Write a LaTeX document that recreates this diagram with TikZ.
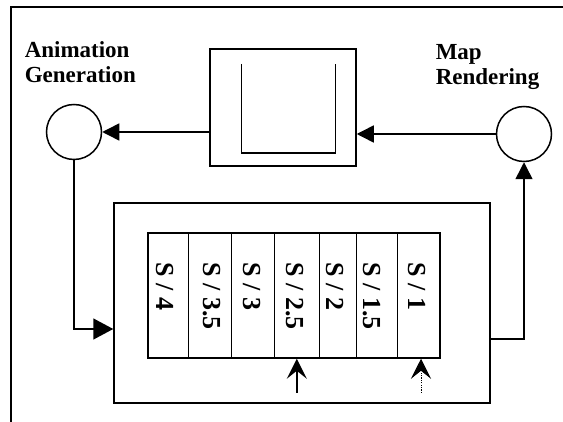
\documentclass[tikz,border=0pt]{standalone}
\usepackage{fontspec}
\setmainfont{Liberation Serif}
\usetikzlibrary{arrows.meta}
\begin{document}
\begin{tikzpicture}[x=1pt,y=-1pt, line width=1.5pt,
  box/.style={draw, line width=1.5pt, inner sep=0pt},
  circ/.style={draw, circle, line width=1.5pt, minimum size=55pt, inner sep=0pt},
  colbox/.style={draw, line width=1.5pt, inner sep=0pt, minimum height=125pt},
  lab/.style={font=\fontsize{23}{25}\selectfont\bfseries, align=left, inner sep=0pt},
  collab/.style={font=\fontsize{26}{26}\selectfont\bfseries, rotate=-90, anchor=base west, inner sep=0pt},
  tri/.style={-{Triangle[length=17pt,width=17pt]}},
  bigtri/.style={-{Triangle[length=20pt,width=21pt]}},
  stl/.style={-{Stealth[length=20pt,width=20pt,inset=8pt]}}
]
\useasboundingbox (0,0) rectangle (563,422);
% frame
\draw[line width=2.5pt] (11,430) -- (11,7) -- (570,7);
% labels
\node[lab, anchor=base west] (anim) at (24,83) {Animation\\Generation};
\node[lab, anchor=base west] (map) at (435,85) {Map\\Rendering};
% top box
\node[box, minimum width=146pt, minimum height=117pt] (ren) at (283,107.5) {};
\draw (241.7,64) -- (241.7,153) -- (335.7,153) -- (335.7,64);
% circles
\node[circ] (lc) at (74,132) {};
\node[circ] (rc) at (524,134) {};
% big box
\node[box, minimum width=376pt, minimum height=200pt] (big) at (302,303) {};
% columns
\node[colbox, minimum width=40.7pt] (c4) at (168.35,295.5) {};
\node[colbox, minimum width=43pt] (c35) at (210.2,295.5) {};
\node[colbox, minimum width=42.6pt] (c3) at (253,295.5) {};
\node[colbox, minimum width=45pt] (c25) at (296.8,295.5) {};
\node[colbox, minimum width=37.4pt] (c2) at (338,295.5) {};
\node[colbox, minimum width=40.6pt] (c15) at (377,295.5) {};
\node[colbox, minimum width=42.7pt] (c1) at (418.65,295.5) {};
\node[collab] (l4) at (156.7,262) {S / 4};
\node[collab] (l35) at (203.3,262) {S / 3.5};
\node[collab] (l3) at (243.3,262) {S / 3};
\node[collab] (l25) at (286.7,262) {S / 2.5};
\node[collab] (l2) at (326.7,262) {S / 2};
\node[collab] (l15) at (363.3,262) {S / 1.5};
\node[collab] (l1) at (408.3,262) {S / 1};
% connectors
\draw[tri] (rc.west) -- (rc.west -| ren.east);
\draw[tri] (ren.west |- lc.east) -- (lc.east);
\draw[bigtri] (lc.south) |- ([yshift=-26pt]big.west);
\draw[tri] ([yshift=-36pt]big.east) -| (rc.south);
\coordinate (a1) at (296.8,393);
\coordinate (a2) at (421,393);
\draw[stl] (a1) -- (c25.south);
\draw[stl, line width=1pt, dash pattern=on 1.2pt off 1.2pt] (a2) -- (a2 |- c1.south);
\end{tikzpicture}
\end{document}
